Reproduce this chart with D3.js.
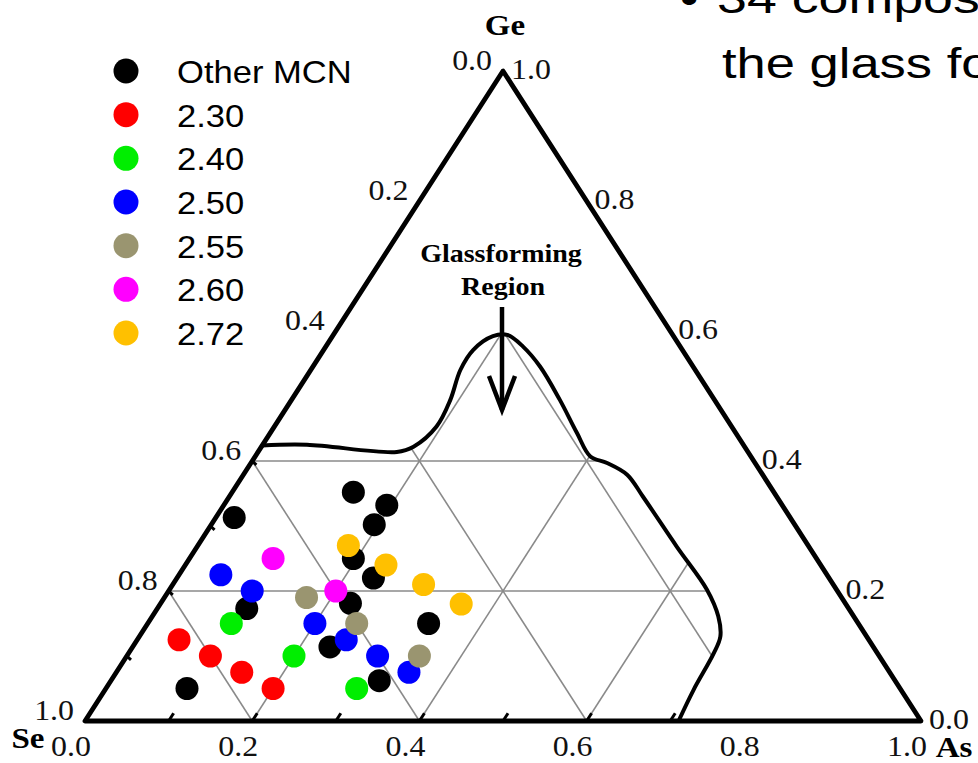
<!DOCTYPE html>
<html>
<head>
<meta charset="utf-8">
<script src="https://cdn.jsdelivr.net/npm/d3@7"></script>
<style>
  body { margin: 0; background: #fff; }
  svg { display: block; }
  .tick-label { font-family: "Liberation Serif", "Times New Roman", serif; font-size: 29px; fill: #111; }
  .vertex-label { font-family: "Liberation Serif", "Times New Roman", serif; font-weight: bold; font-size: 30px; fill: #000; }
  .legend-label { font-family: "Liberation Sans", Arial, sans-serif; font-size: 32px; fill: #000; }
  .slide-text { font-family: "Liberation Sans", Arial, sans-serif; font-size: 42px; fill: #000; }
</style>
</head>
<body>
<svg id="chart" width="978" height="763"></svg>
<script>
// Compositions as [As fraction, Ge fraction]; Se = 1 - As - Ge
const otherMCN = [
  [0.145, 0.352], [0.195, 0.332], [0.195, 0.302], [0.022, 0.313],
  [0.196, 0.250], [0.235, 0.220], [0.227, 0.181], [0.107, 0.173],
  [0.336, 0.150], [0.236, 0.114], [0.321, 0.062], [0.097, 0.050]
];
const mcn230 = [[0.05, 0.125], [0.10, 0.10], [0.15, 0.075], [0.20, 0.05]];
const mcn240 = [[0.10, 0.15], [0.20, 0.10], [0.30, 0.05]];
const mcn250 = [[0.05, 0.225], [0.10, 0.20], [0.20, 0.15], [0.25, 0.125], [0.30, 0.10], [0.35, 0.075]];
const mcn255 = [[0.17, 0.19], [0.25, 0.15], [0.35, 0.10]];
const mcn260 = [[0.10, 0.25], [0.20, 0.20]];
const mcn272 = [[0.18, 0.27], [0.24, 0.24], [0.30, 0.21], [0.36, 0.18]];

const seriesNames = ['Other MCN', '2.30', '2.40', '2.50', '2.55', '2.60', '2.72'];
const seriesColors = ['#000000', '#ff0000', '#00ee00', '#0000ff', '#9a9570', '#ff00ff', '#ffc000'];
const seriesData = [otherMCN, mcn230, mcn240, mcn250, mcn255, mcn260, mcn272];

// Glass-forming region boundary, [As, Ge]
const glassBoundary = [
  [0.000, 0.424], [0.053, 0.425], [0.166, 0.414], [0.182, 0.422], [0.194, 0.453],
  [0.190, 0.494], [0.179, 0.540], [0.179, 0.571], [0.192, 0.592], [0.208, 0.594],
  [0.236, 0.576], [0.272, 0.545], [0.321, 0.494], [0.367, 0.443], [0.401, 0.407],
  [0.426, 0.397], [0.459, 0.379], [0.495, 0.345], [0.574, 0.268], [0.643, 0.202],
  [0.677, 0.161], [0.695, 0.130], [0.700, 0.104], [0.704, 0.048], [0.710, 0.000]
];

const gridValues = [0.2, 0.4, 0.6, 0.8];
const tickLabels = ['0.0', '0.2', '0.4', '0.6', '0.8', '1.0'];
const tickValues = [0, 0.2, 0.4, 0.6, 0.8, 1];
const bottomMinorTicks = [0.1, 0.2, 0.3, 0.4, 0.5, 0.6, 0.7];
const leftMinorTicks = [0.1, 0.2, 0.3, 0.4];

const svg = d3.select('#chart');

// Ternary projection through two linear scales
const xScale = d3.scaleLinear().domain([0, 1]).range([85, 921]);
const yScale = d3.scaleLinear().domain([0, 1]).range([721, 71]);
const project = ([as, ge]) => [xScale(as + ge / 2), yScale(ge)];

const stretch = 1.1;
const addText = (g, x, y, str, cls, anchor) => g.append('text')
  .attr('class', cls)
  .attr('text-anchor', anchor)
  .attr('transform', `translate(${x},${y}) scale(${stretch},1)`)
  .text(str);

// Clip for the grid: the glass-forming region
const boundaryLine = d3.line().x(d => project(d)[0]).y(d => project(d)[1]).curve(d3.curveCatmullRom.alpha(0.5));
const seCorner = project([0, 0]);
svg.append('defs').append('clipPath').attr('id', 'region-clip')
  .append('path')
  .attr('d', boundaryLine(glassBoundary) + `L${seCorner[0]},${seCorner[1]}Z`);

// Grid lines: constant Ge, constant As, constant Se
const gridSegments = [];
gridValues.forEach(v => {
  gridSegments.push([[0, v], [1 - v, v]]);
  gridSegments.push([[v, 0], [v, 1 - v]]);
  gridSegments.push([[1 - v, 0], [0, 1 - v]]);
});
svg.append('g').attr('clip-path', 'url(#region-clip)')
  .selectAll('line').data(gridSegments)
  .enter().append('line')
    .attr('x1', d => project(d[0])[0]).attr('y1', d => project(d[0])[1])
    .attr('x2', d => project(d[1])[0]).attr('y2', d => project(d[1])[1])
    .attr('stroke', '#8a8a8a')
    .attr('stroke-width', 1.6);

// Triangle outline
const corners = [[0, 0], [1, 0], [0, 1]].map(project);
svg.append('path')
  .attr('d', 'M' + corners.map(c => c.join(',')).join('L') + 'Z')
  .attr('fill', 'none')
  .attr('stroke', '#000')
  .attr('stroke-width', 4.8)
  .attr('stroke-linejoin', 'round');

// Small ticks on bottom and left edges
const tickG = svg.append('g').attr('stroke', '#000').attr('stroke-width', 3);
tickG.selectAll('.bt').data(bottomMinorTicks).enter().append('line')
  .attr('x1', d => project([d, 0])[0]).attr('y1', d => project([d, 0])[1])
  .attr('x2', d => project([d, 0.012])[0]).attr('y2', d => project([d, 0.012])[1]);
tickG.selectAll('.lt').data(leftMinorTicks).enter().append('line')
  .attr('x1', d => project([0, d])[0]).attr('y1', d => project([0, d])[1])
  .attr('x2', d => project([0.008, d - 0.006])[0]).attr('y2', d => project([0.008, d - 0.006])[1]);

// Glass-forming region boundary
svg.append('path')
  .attr('d', boundaryLine(glassBoundary))
  .attr('fill', 'none')
  .attr('stroke', '#000')
  .attr('stroke-width', 4)
  .attr('stroke-linecap', 'round');

// Axis labels
const labels = svg.append('g');
tickValues.forEach((v, i) => {
  // left edge: Se fraction, 0 at Ge apex
  const l = project([0, 1 - v]);
  addText(labels, l[0] - 11, l[1] - 1, tickLabels[i], 'tick-label', 'end');
  // bottom edge: As fraction
  const b = project([v, 0]);
  addText(labels, b[0] - 14, 756, tickLabels[i], 'tick-label', 'middle');
  // right edge: Ge fraction
  const r = project([1 - v, v]);
  addText(labels, r[0] + 8, r[1] + 8, tickLabels[i], 'tick-label', 'start');
});
addText(labels, project([0, 1])[0] + 2, 35, 'Ge', 'vertex-label', 'middle');
addText(labels, 28, 748, 'Se', 'vertex-label', 'middle');
addText(labels, 954, 757, 'As', 'vertex-label', 'middle');

// Annotation
const annot = svg.append('g');
annot.append('text').attr('class', 'vertex-label').style('font-size', '25px')
  .attr('text-anchor', 'middle').attr('transform', `translate(501,262) scale(1.12,1)`).text('Glassforming');
annot.append('text').attr('class', 'vertex-label').style('font-size', '25px')
  .attr('text-anchor', 'middle').attr('transform', `translate(503,295) scale(1.12,1)`).text('Region');
const tip = [502, 410];
annot.append('line').attr('x1', tip[0]).attr('y1', 307).attr('x2', tip[0]).attr('y2', tip[1])
  .attr('stroke', '#000').attr('stroke-width', 4.5);
annot.append('path')
  .attr('d', `M${tip[0] - 13},${tip[1] - 34}L${tip[0]},${tip[1]}L${tip[0] + 13},${tip[1] - 34}`)
  .attr('fill', 'none').attr('stroke', '#000').attr('stroke-width', 4.5).attr('stroke-linejoin', 'miter');

// Data points
const pointsG = svg.append('g');
seriesData.forEach((pts, i) => {
  pointsG.append('g').selectAll('circle').data(pts)
    .enter().append('circle')
      .attr('cx', d => project(d)[0])
      .attr('cy', d => project(d)[1])
      .attr('r', 11.5)
      .attr('fill', seriesColors[i]);
});

// Legend
const legendY = d3.scalePoint().domain(seriesNames).range([71, 333]);
const legend = svg.append('g');
const items = legend.selectAll('g').data(seriesNames).enter().append('g')
  .attr('transform', d => `translate(126,${legendY(d)})`);
items.append('circle').attr('r', 12.5).attr('fill', (d, i) => seriesColors[i]);
items.append('text').attr('class', 'legend-label')
  .attr('transform', 'translate(51,12) scale(1.08,1)')
  .text(d => d);

// Slide text running off the edge
const slide = svg.append('g');
slide.append('text').attr('class', 'slide-text').attr('transform', 'translate(680,13) scale(1.25,1)').text('\u2022');
slide.append('text').attr('class', 'slide-text').attr('transform', 'translate(717,13) scale(1.28,1)').text('34 compositions');
slide.append('text').attr('class', 'slide-text').attr('transform', 'translate(722,78) scale(1.25,1)').text('the glass forming');
</script>
</body>
</html>
